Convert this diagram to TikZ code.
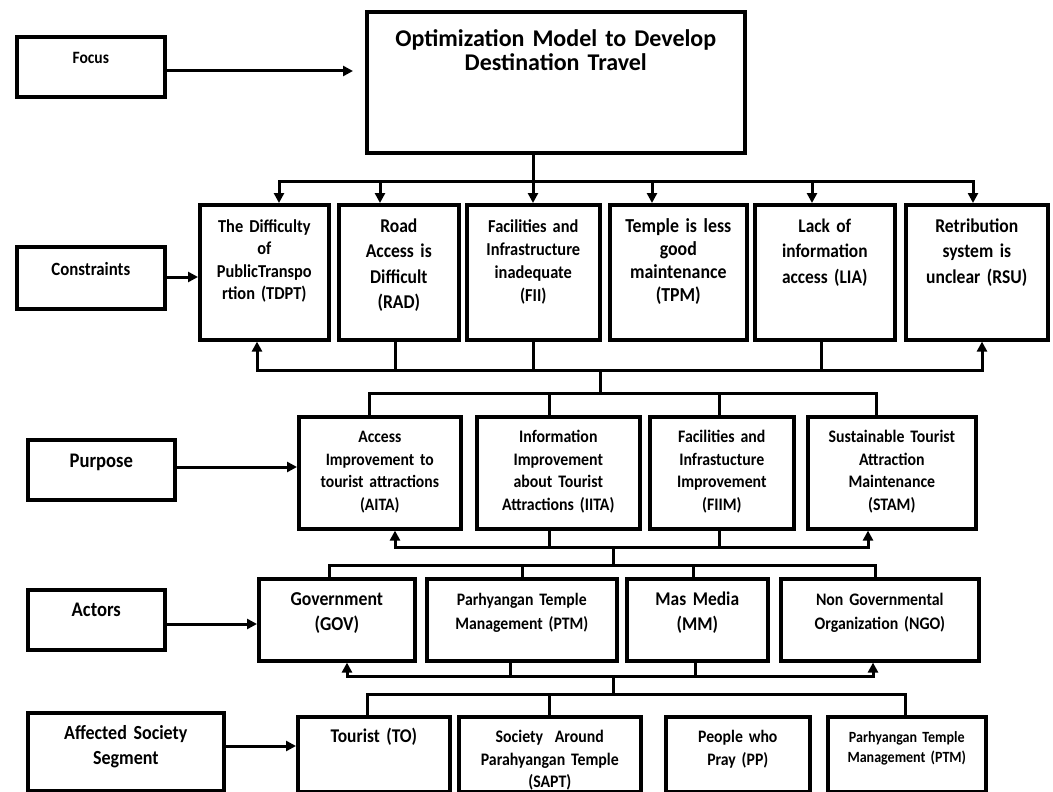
\documentclass[tikz,border=0pt]{standalone}
\usepackage{fontspec}
\setmainfont{Carlito}[FakeStretch=0.9]
\newfontfamily\titlefont{Carlito}
\usetikzlibrary{arrows.meta}

\begin{document}
\begin{tikzpicture}[x=1pt, y=-1pt,
    box/.style={draw, line width=3.6pt, anchor=north west, align=center, inner xsep=2pt, inner ysep=0pt},
    fs/.style 2 args={font=\bfseries\fontsize{#1}{#2}\selectfont},
    conrow/.style={box, text height=27.5pt, text depth=107.5pt},
    purrow/.style={box, text height=26pt, text depth=86pt},
    actrow/.style={box, text height=27pt, text depth=55pt},
    socrow/.style={box, text height=26pt, text depth=49pt},
    link/.style={line width=3pt},
    arr/.style={link, -{Triangle[length=10pt, width=10pt]}}]
    \useasboundingbox (0,0) rectangle (1053,792);

    % Left column
    \node[box, fs={17.3}{19}, text width=144pt, text height=27pt, text depth=33pt] (focus) at (15,35) {Focus};
    \node[box, fs={18.7}{21}, text width=144pt, text height=28.5pt, text depth=33.5pt] (cons) at (15,245) {Constraints};
    \node[box, fs={20.7}{22}, text width=143pt, text height=28pt, text depth=32pt] (purp) at (26,438) {Purpose};
    \node[box, fs={20.7}{22}, text width=133pt, text height=27pt, text depth=33pt] (act) at (26,588) {Actors};
    \node[box, fs={20}{25}, text width=192pt, text height=27pt, text depth=51pt] (aff) at (26,711) {Affected Society\\Segment};

    % Focus
    \node[box, font=\titlefont\bfseries\fontsize{24}{24}\selectfont, text width=374pt, text height=35pt, text depth=106pt] (model) at (365,10) {Optimization Model to Develop\\Destination Travel};

    % Constraints
    \node[conrow, fs={18.2}{22.5}, text width=125pt] (tdpt) at (198,203) {The Difficulty\\of\\PublicTranspo\\rtion (TDPT)};
    \node[conrow, fs={19.5}{25.5}, text width=116pt] (rad) at (337,203) {Road\\Access is\\Difficult\\(RAD)};
    \node[conrow, fs={18.2}{23}, text width=129pt] (fii) at (465,203) {Facilities and\\Infrastructure\\inadequate\\(FII)};
    \node[conrow, fs={19.8}{23}, text width=133pt] (tpm) at (608,203) {Temple is less\\good\\maintenance\\(TPM)};
    \node[conrow, fs={19.3}{25.5}, text width=136pt] (lia) at (753,203) {Lack of\\information\\access (LIA)};
    \node[conrow, fs={19.5}{25.5}, text width=138pt] (rsu) at (904,203) {Retribution\\system is\\unclear (RSU)};

    % Purpose
    \node[purrow, fs={17.4}{22.5}, text width=158pt] (aita) at (297,415) {Access\\Improvement to\\tourist attractions\\(AITA)};
    \node[purrow, fs={17.6}{22.5}, text width=159pt] (iita) at (475,415) {Information\\Improvement\\about Tourist\\Attractions (IITA)};
    \node[purrow, fs={17.6}{22.5}, text width=140pt] (fiim) at (648,415) {Facilities and\\Infrastucture\\Improvement\\(FIIM)};
    \node[purrow, fs={17.6}{22.5}, text width=164pt] (stam) at (806,415) {Sustainable Tourist\\Attraction\\Maintenance\\(STAM)};

    % Actors
    \node[actrow, fs={19.7}{25}, text width=152pt] (gov) at (257,577) {Government\\(GOV)};
    \node[actrow, fs={17.5}{24}, text width=186pt] (ptm) at (425,577) {Parhyangan Temple\\Management (PTM)};
    \node[actrow, fs={19.4}{25}, text width=137pt] (mm) at (625,577) {Mas Media\\(MM)};
    \node[actrow, fs={17.6}{24}, text width=194pt] (ngo) at (779,577) {Non Governmental\\Organization (NGO)};

    % Affected society segment
    \node[socrow, fs={19.4}{23}, text width=148pt] (tour) at (296,715) {Tourist (TO)};
    \node[socrow, fs={17.6}{22.5}, text width=178pt] (sapt) at (457,715) {Society\ \ Around\\Parahyangan Temple\\(SAPT)};
    \node[socrow, fs={17.5}{22.5}, text width=140pt] (pp) at (664,715) {People who\\Pray (PP)};
    \node[socrow, fs={15.6}{20}, text width=154pt] (ptmb) at (826,715) {Parhyangan Temple\\Management (PTM)};

    % Junctions
    \coordinate (j1) at (533,181);
    \coordinate (j2) at (600,370);
    \coordinate (j3) at (600,393);
    \coordinate (j4) at (613,547);
    \coordinate (j5) at (613,565);
    \coordinate (j6) at (613,676);
    \coordinate (j7) at (613,694);

    % Left labels to rows
    \draw[arr, shorten >=12pt] (focus.east |- 0,71) -- (model.west |- 0,71);
    \draw[arr] (cons.east |- 0,277) -- (tdpt.west |- 0,277);
    \draw[arr] (purp.east |- 0,467) -- (aita.west |- 0,467);
    \draw[arr] (act.east |- 0,624) -- (gov.west |- 0,624);
    \draw[arr] (aff.east |- 0,746) -- (tour.west |- 0,746);

    % Focus -> constraints
    \draw[link] (model.south -| j1) -- (j1);
    \draw[arr] (j1) -| (tdpt.north -| 279,0);
    \draw[arr] (j1) -| (rsu.north -| 973,0);
    \foreach \x/\n in {380/rad, 533/fii, 652/tpm, 812/lia}
        \draw[arr] (j1 -| \x,0) -- (\n.north -| \x,0);

    % Constraints -> purpose
    \draw[arr] (j2) -| (tdpt.south -| 257,0);
    \draw[arr] (j2) -| (rsu.south -| 982,0);
    \foreach \x/\n in {395/rad, 533/fii, 821/lia}
        \draw[link] (\n.south -| \x,0) -- (j2 -| \x,0);
    \draw[link] (j2) -- (j3);
    \draw[link] (j3) -| (aita.north -| 369,0);
    \draw[link] (j3) -| (stam.north -| 876,0);
    \foreach \x/\n in {549/iita, 719/fiim}
        \draw[link] (j3 -| \x,0) -- (\n.north -| \x,0);

    % Purpose -> actors
    \draw[arr] (j4) -| (aita.south -| 395,0);
    \draw[arr] (j4) -| (stam.south -| 868,0);
    \foreach \x/\n in {549/iita, 719/fiim}
        \draw[link] (\n.south -| \x,0) -- (j4 -| \x,0);
    \draw[link] (j4) -- (j5);
    \draw[link] (j5) -| (gov.north -| 329,0);
    \draw[link] (j5) -| (ngo.north -| 875,0);
    \foreach \x/\n in {522/ptm, 693/mm}
        \draw[link] (j5 -| \x,0) -- (\n.north -| \x,0);

    % Actors -> affected society
    \draw[arr] (j6) -| (gov.south -| 347,0);
    \draw[arr] (j6) -| (ngo.south -| 873,0);
    \foreach \x/\n in {510/ptm, 695/mm}
        \draw[link] (\n.south -| \x,0) -- (j6 -| \x,0);
    \draw[link] (j6) -- (j7);
    \draw[link] (j7) -| (tour.north -| 367,0);
    \draw[link] (j7) -| (ptmb.north -| 905,0);
    \draw[link] (j7 -| 549,0) -- (sapt.north -| 549,0);
\end{tikzpicture}
\end{document}
